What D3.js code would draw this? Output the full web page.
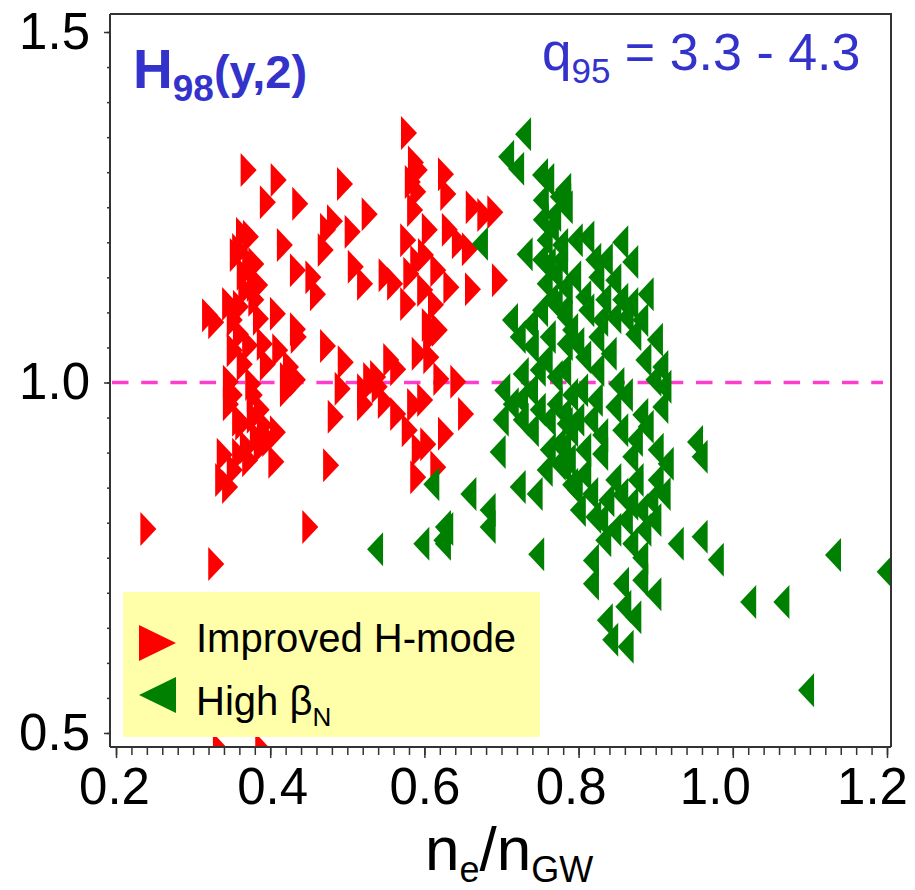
<!DOCTYPE html>
<html>
<head>
<meta charset="utf-8">
<script src="https://cdn.jsdelivr.net/npm/d3@7"></script>
<style>
  html, body { margin: 0; padding: 0; background: #fff; }
  svg { display: block; font-family: "Liberation Sans", Arial, Helvetica, sans-serif; }
</style>
</head>
<body>
<svg id="chart" width="915" height="890"></svg>
<script>
// ---------------- data ----------------
const xTickValues = [0.2, 0.4, 0.6, 0.8, 1.0, 1.2];
const xTickLabels = ["0.2", "0.4", "0.6", "0.8", "1.0", "1.2"];
const yTickValues = [0.5, 1.0, 1.5];
const yTickLabels = ["0.5", "1.0", "1.5"];
const referenceH = 1.0;
const seriesNames = ["Improved H-mode", "High β"];

const improvedX = [0.372,0.411,0.397,0.439,0.497,0.529,0.484,0.475,0.507,0.366,0.375,0.419,0.472,0.382,0.367,0.436,0.456,0.511,0.523,0.551,
  0.462,0.369,0.382,0.348,0.322,0.362,0.410,0.436,0.388,0.330,0.362,0.393,0.413,0.367,0.427,0.397,0.437,0.475,0.498,0.557,
  0.349,0.378,0.423,0.436,0.494,0.531,0.542,0.523,0.550,0.485,0.349,0.365,0.380,0.410,0.384,0.371,0.408,0.354,0.339,0.348,
  0.479,0.452,0.330,0.242,0.336,0.391,0.580,0.589,0.628,0.585,0.592,0.631,0.588,0.664,0.679,0.692,0.633,0.646,0.659,0.579,
  0.602,0.583,0.618,0.635,0.663,0.698,0.579,0.615,0.607,0.562,0.609,0.594,0.609,0.566,0.622,0.644,0.588,0.654,0.628,0.594,
  0.605,0.592,0.618,0.566,0.540,0.523,0.423,0.358,0.374,0.387,0.354,0.389,0.400,0.361,
  0.361,0.380,0.354,0.374,0.354,0.380,0.361,0.393,0.374,0.389,0.341,
  0.594,0.607,0.592,0.601,0.620,0.601,0.581];
const improvedY = [1.303,1.289,1.257,1.255,1.283,1.240,1.230,1.218,1.215,1.212,1.208,1.196,1.189,1.169,1.155,1.160,1.150,1.165,1.141,1.153,
  1.126,1.132,1.118,1.112,1.096,1.108,1.098,1.076,1.091,1.086,1.069,1.055,1.046,1.026,1.022,1.026,1.065,1.052,1.029,1.032,
  1.001,0.998,0.989,1.004,0.991,1.005,0.994,0.969,0.972,0.951,0.969,0.941,0.951,0.929,0.922,0.908,0.887,0.875,0.861,0.851,
  0.882,0.794,0.741,0.791,0.476,0.476,1.356,1.314,1.297,1.286,1.272,1.269,1.246,1.250,1.239,1.243,1.218,1.200,1.190,1.203,
  1.182,1.155,1.160,1.136,1.133,1.146,1.112,1.111,1.082,1.141,1.065,1.041,1.036,1.019,1.005,1.001,0.968,0.955,0.927,0.904,
  0.912,0.865,0.879,0.955,1.008,0.989,1.005,1.182,1.172,1.139,0.982,0.961,0.918,0.897,
  1.189,1.139,1.089,1.053,1.046,0.982,0.947,0.939,0.889,0.908,0.897,
  1.303,1.218,1.172,1.132,1.075,0.975,0.932];

const highBetaX = [0.728,0.706,0.719,0.672,0.730,0.758,0.751,0.773,0.782,0.751,0.764,0.760,0.769,0.756,0.782,0.769,0.782,0.711,0.737,0.609,
  0.657,0.682,0.682,0.624,0.624,0.596,0.721,0.743,0.745,0.695,0.699,0.701,0.721,0.738,0.760,0.782,0.725,0.747,0.769,0.712,
  0.725,0.747,0.769,0.782,0.738,0.773,0.773,0.786,0.780,0.780,0.810,0.854,0.819,0.867,0.793,0.823,0.845,0.887,0.806,0.832,
  0.867,0.780,0.810,0.845,0.861,0.823,0.871,0.797,0.806,0.839,0.884,0.906,0.823,0.849,0.897,0.910,0.802,0.780,0.845,0.906,
  0.854,0.887,0.951,0.780,0.797,0.815,0.780,0.806,0.828,0.867,0.900,0.913,0.780,0.806,0.845,0.874,0.900,0.815,0.799,0.836,
  0.867,0.893,0.909,0.819,0.845,0.884,0.897,0.832,0.867,0.926,0.957,0.880,0.816,0.816,0.855,0.880,0.897,0.858,0.871,0.834,
  0.841,0.861,0.957,0.978,1.020,1.063,1.130,1.197,1.095,0.536,0.622,0.627,
  0.789,0.821,0.860,0.880,0.789,0.828,0.873,0.795,0.854,0.880,0.828,0.860,0.789,0.760,0.756,0.760,0.724,0.737,0.756,0.789,
  0.828,0.880,0.854,0.899,
  0.750,0.767,0.756,0.776,0.750,0.776,0.763,0.750,0.795,0.834];
const highBetaY = [1.354,1.322,1.305,1.198,1.183,1.289,1.260,1.265,1.250,1.232,1.222,1.169,1.155,1.141,1.136,1.112,1.093,1.089,1.083,0.855,
  0.841,0.818,0.794,0.794,0.770,0.770,0.851,0.841,0.755,0.901,0.947,0.989,1.065,1.051,1.065,1.055,1.012,1.018,1.008,0.969,
  0.947,0.961,0.969,0.941,0.932,0.912,0.884,0.889,1.275,1.260,1.207,1.200,1.175,1.172,1.150,1.150,1.146,1.126,1.122,1.118,
  1.112,1.103,1.103,1.093,1.093,1.065,1.069,1.055,1.036,1.041,1.032,1.022,1.018,0.998,1.004,0.994,0.989,1.018,0.965,0.965,
  0.932,0.937,0.915,0.955,0.947,0.947,0.908,0.904,0.898,0.894,0.904,0.884,0.879,0.869,0.861,0.861,0.861,0.841,0.818,0.832,
  0.827,0.832,0.841,0.808,0.790,0.790,0.804,0.775,0.770,0.770,0.780,0.750,0.746,0.713,0.713,0.718,0.698,0.680,0.665,0.661,
  0.633,0.623,0.894,0.747,0.687,0.687,0.754,0.730,0.561,0.762,0.775,0.791,
  0.982,0.975,0.982,0.954,0.932,0.925,0.918,0.847,0.840,0.818,0.804,0.804,0.854,0.904,0.875,0.947,0.975,0.989,1.032,1.075,
  1.089,1.089,1.118,1.061,
  1.296,1.239,1.203,1.196,1.175,1.175,1.118,1.103,1.203,1.175];

// ---------------- layout ----------------
const svg = d3.select("#chart");
const plot = { left: 110, top: 14, right: 891, bottom: 747 };
const x = d3.scaleLinear().domain([0.1922, 1.2052]).range([plot.left, plot.right]);
const y = d3.scaleLinear().domain([0.48, 1.5257]).range([plot.bottom, plot.top]);

const RED = "#ff0000", GREEN = "#008000", BLUE = "#3333cc";
const FONT = '"Liberation Sans", Arial, Helvetica, sans-serif';
const xLabelShift = [-2, 2, 0, -8, -18, -15];   // label placement nudges (px)

svg.append("defs").append("clipPath").attr("id", "plotclip")
  .append("rect").attr("x", plot.left + 1).attr("y", plot.top + 1)
  .attr("width", plot.right - plot.left - 2).attr("height", plot.bottom - plot.top - 2);

// frame (top + right)
svg.append("path")
  .attr("d", `M${plot.left},${plot.top}H${plot.right}V${plot.bottom}`)
  .attr("fill", "none").attr("stroke", "#333").attr("stroke-width", 2);

// dashed reference line
svg.append("line")
  .attr("x1", plot.left + 2).attr("x2", 883)
  .attr("y1", y(referenceH)).attr("y2", y(referenceH))
  .attr("stroke", "#ff3dcc").attr("stroke-width", 3.5)
  .attr("stroke-dasharray", "16.5,12.7");

// markers
const rightTri = (w, h) => `M${-w/2},${-h/2}L${w/2},0L${-w/2},${h/2}Z`;
const leftTri = (w, h) => `M${w/2},${-h/2}L${-w/2},0L${w/2},${h/2}Z`;

const pts = svg.append("g").attr("clip-path", "url(#plotclip)");
pts.selectAll("path.red").data(d3.zip(improvedX, improvedY)).join("path")
  .attr("class", "red")
  .attr("transform", d => `translate(${x(d[0])},${y(d[1])})`)
  .attr("d", rightTri(16, 34)).attr("fill", RED);
pts.selectAll("path.green").data(d3.zip(highBetaX, highBetaY)).join("path")
  .attr("class", "green")
  .attr("transform", d => `translate(${x(d[0])},${y(d[1])})`)
  .attr("d", leftTri(16, 34)).attr("fill", GREEN);

// legend
const lg = svg.append("g");
lg.append("rect").attr("x", 123).attr("y", 592).attr("width", 417).attr("height", 145).attr("fill", "#ffffaa");
lg.append("path").attr("transform", "translate(157.5,643)").attr("d", rightTri(37, 36)).attr("fill", RED);
lg.append("path").attr("transform", "translate(157.5,695)").attr("d", leftTri(37, 36)).attr("fill", GREEN);
lg.append("text").attr("x", 196).attr("y", 652).attr("font-size", 40).attr("fill", "#000").text(seriesNames[0]);
const t2 = lg.append("text").attr("x", 196).attr("y", 715).attr("font-size", 40).attr("fill", "#000");
t2.append("tspan").text(seriesNames[1]);
t2.append("tspan").attr("font-size", 26).attr("dy", 11).text("N");

// axes
const yAxis = d3.axisLeft(y).tickValues(yTickValues).tickFormat((d, i) => yTickLabels[i]).tickSize(6).tickPadding(14);
const yMinor = d3.axisLeft(y).tickValues(d3.range(0.5, 1.5001, 0.05)).tickFormat("").tickSize(3);
const xAxis = d3.axisBottom(x).tickValues(xTickValues).tickFormat((d, i) => xTickLabels[i]).tickSize(11).tickPadding(10);
const xMinor = d3.axisBottom(x).tickValues(d3.range(0.2, 1.2001, 0.02)).tickFormat("").tickSize(8);

function styleAxis(g) {
  g.select(".domain").remove();
  g.selectAll(".tick line").attr("stroke", "#333").attr("stroke-width", 1.5);
  g.selectAll(".tick text").attr("font-family", FONT).attr("font-size", 51).attr("fill", "#000");
}
svg.append("g").attr("transform", `translate(${plot.left},0)`).call(yMinor).call(styleAxis);
svg.append("g").attr("transform", `translate(${plot.left},0)`).call(yAxis).call(styleAxis);
svg.append("g").attr("transform", `translate(0,${plot.bottom})`).call(xMinor).call(styleAxis);
const gx = svg.append("g").attr("transform", `translate(0,${plot.bottom})`).call(xAxis).call(styleAxis);
gx.selectAll(".tick text").attr("dx", (d, i) => xLabelShift[i]);

// axis lines spanning the full frame
svg.append("line").attr("x1", plot.left).attr("x2", plot.left).attr("y1", plot.top).attr("y2", plot.bottom)
  .attr("stroke", "#333").attr("stroke-width", 2);
svg.append("line").attr("x1", plot.left).attr("x2", plot.right).attr("y1", plot.bottom).attr("y2", plot.bottom)
  .attr("stroke", "#333").attr("stroke-width", 2);

// x-axis title
const xt = svg.append("text").attr("x", 425).attr("y", 870).attr("font-size", 62).attr("fill", "#000");
xt.append("tspan").text("n");
xt.append("tspan").attr("font-size", 36).attr("dy", 12).text("e");
xt.append("tspan").attr("dy", -12).text("/n");
xt.append("tspan").attr("font-size", 36).attr("dy", 12).text("GW");

// in-plot annotations
const h = svg.append("text").attr("x", 133).attr("y", 88).attr("fill", BLUE).attr("font-weight", "bold");
h.append("tspan").attr("font-size", 55).text("H");
h.append("tspan").attr("font-size", 37).attr("dy", 13).text("98");
h.append("tspan").attr("font-size", 47).attr("dy", -13).text("(y,2)");

const q = svg.append("text").attr("x", 542).attr("y", 70).attr("fill", BLUE);
q.append("tspan").attr("font-size", 53).text("q");
q.append("tspan").attr("font-size", 35).attr("dy", 13).text("95");
q.append("tspan").attr("font-size", 52).attr("dy", -13).text(" = 3.3 - 4.3");
</script>
</body>
</html>
